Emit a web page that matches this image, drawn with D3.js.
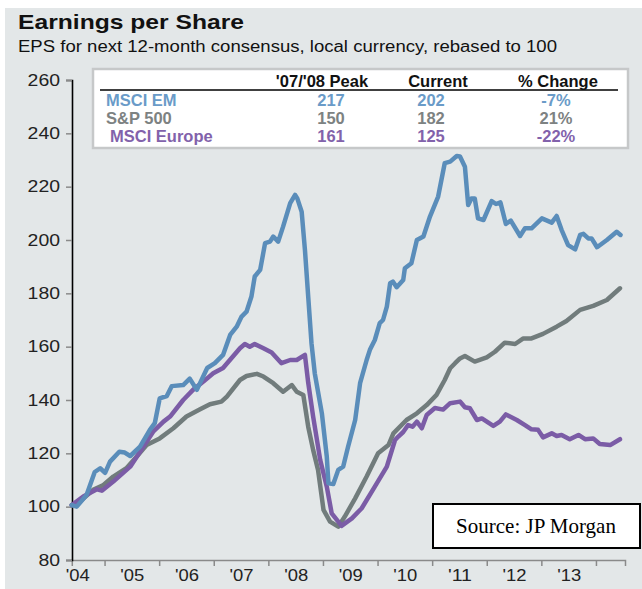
<!DOCTYPE html>
<html>
<head>
<meta charset="utf-8">
<script src="https://cdn.jsdelivr.net/npm/d3@7"></script>
<style>
  body { margin: 0; background: #fff; }
  svg { display: block; font-family: "Liberation Sans", Arial, sans-serif; }
</style>
</head>
<body>
<svg id="chart" width="642" height="589"></svg>
<script>
// [year, EPS index]
const msciEm = [
  [2004.40, 100.6], [2004.49, 100], [2004.67, 104.4], [2004.82, 113], [2004.92, 114.4],
  [2005.01, 112.7], [2005.10, 116.9], [2005.27, 120.6], [2005.37, 120.3], [2005.47, 119],
  [2005.65, 122.5], [2005.83, 128.8], [2005.92, 131.3], [2006.01, 140.6], [2006.14, 141.5],
  [2006.23, 145.2], [2006.44, 145.6], [2006.56, 148], [2006.69, 143.8], [2006.88, 152],
  [2007.02, 153.8], [2007.17, 156.9], [2007.30, 164.4], [2007.42, 167.5], [2007.51, 171.3],
  [2007.60, 173.1], [2007.69, 178.8], [2007.75, 186.3], [2007.85, 188.8], [2007.94, 198.8],
  [2008.03, 199.4], [2008.09, 201.3], [2008.18, 199.4], [2008.27, 205], [2008.40, 213.8],
  [2008.49, 216.9], [2008.53, 215.6], [2008.61, 210.6], [2008.67, 196.3], [2008.73, 178.8],
  [2008.79, 161.3], [2008.85, 150], [2008.98, 135], [2009.07, 118.8], [2009.10, 108.8],
  [2009.19, 108.5], [2009.28, 113.8], [2009.37, 115], [2009.46, 122.5], [2009.59, 132.5],
  [2009.68, 146.3], [2009.80, 155], [2009.86, 158.8], [2009.95, 162.5], [2010.04, 168.8],
  [2010.10, 170], [2010.17, 175], [2010.23, 183.8], [2010.28, 184.4], [2010.35, 182.3],
  [2010.47, 185], [2010.50, 189.4], [2010.62, 191.3], [2010.72, 200], [2010.84, 201.3],
  [2010.96, 208.8], [2011.11, 216.3], [2011.23, 228.8], [2011.33, 229.4], [2011.45, 231.5],
  [2011.51, 231.3], [2011.60, 227.5], [2011.66, 213.1], [2011.72, 215.6], [2011.78, 215.6],
  [2011.84, 208.1], [2011.94, 207.5], [2012.09, 214.6], [2012.17, 213.5], [2012.25, 214.1],
  [2012.35, 206], [2012.44, 207.3], [2012.61, 201.5], [2012.70, 204.4], [2012.82, 204.4],
  [2013.01, 208.1], [2013.19, 206.5], [2013.28, 209], [2013.37, 203.8], [2013.49, 198.1],
  [2013.62, 196.5], [2013.71, 201.9], [2013.77, 202.3], [2013.86, 200.6], [2013.92, 200.6],
  [2014.02, 197.3], [2014.20, 200], [2014.38, 203.1], [2014.45, 201.9]
];

const sp500 = [
  [2004.40, 100.6], [2004.55, 101.9], [2004.79, 106.3], [2004.98, 108.1], [2005.16, 111.3],
  [2005.40, 114.4], [2005.59, 118.8], [2005.77, 123.1], [2006.01, 125.6], [2006.26, 129.4],
  [2006.50, 133.8], [2006.75, 136.5], [2006.93, 138.4], [2007.14, 139.4], [2007.24, 141.3],
  [2007.48, 147.5], [2007.60, 149], [2007.79, 149.8], [2007.91, 148.8], [2008.09, 146.3],
  [2008.27, 143.1], [2008.43, 145.6], [2008.52, 143.1], [2008.64, 141.9], [2008.73, 130],
  [2008.82, 121.3], [2008.91, 113.8], [2009.01, 98.8], [2009.13, 94.4], [2009.28, 92.5],
  [2009.40, 96.3], [2009.59, 103.1], [2009.80, 111.3], [2010.01, 120], [2010.20, 123.1],
  [2010.29, 127.5], [2010.53, 132.5], [2010.72, 135], [2010.90, 138.1], [2011.08, 141.9],
  [2011.23, 147.5], [2011.33, 151.9], [2011.42, 153.8], [2011.51, 155.6], [2011.60, 156.5],
  [2011.78, 154.4], [2012.00, 156], [2012.15, 158.1], [2012.33, 161.5], [2012.52, 161],
  [2012.67, 163.1], [2012.82, 163.1], [2013.03, 164.8], [2013.28, 167.5], [2013.46, 169.6],
  [2013.71, 173.8], [2013.95, 175.3], [2014.20, 177.5], [2014.44, 181.9]
];

const msciEurope = [
  [2004.40, 100.6], [2004.61, 103.8], [2004.86, 106.5], [2004.95, 106], [2005.16, 109.4],
  [2005.47, 115], [2005.65, 120.6], [2005.89, 128.1], [2006.08, 131.9], [2006.20, 133.8],
  [2006.44, 140], [2006.62, 143.8], [2006.81, 146.9], [2006.99, 150], [2007.17, 152],
  [2007.48, 159.4], [2007.57, 161], [2007.66, 160], [2007.75, 161], [2007.91, 159.4],
  [2008.06, 157.8], [2008.24, 153.8], [2008.40, 155], [2008.52, 155], [2008.67, 156.9],
  [2008.73, 146.5], [2008.82, 133.8], [2008.95, 117.5], [2009.07, 107.5], [2009.16, 97.5],
  [2009.28, 94.4], [2009.34, 92.8], [2009.53, 95.6], [2009.71, 99.4], [2009.95, 107.5],
  [2010.17, 115], [2010.32, 125], [2010.38, 126.3], [2010.47, 128], [2010.56, 130.6],
  [2010.64, 130], [2010.72, 131.9], [2010.81, 129.4], [2010.90, 134.4], [2011.05, 137],
  [2011.20, 136.4], [2011.33, 138.8], [2011.51, 139.4], [2011.60, 137.3], [2011.69, 136.9],
  [2011.82, 132.5], [2011.91, 133.1], [2012.12, 130.3], [2012.24, 131.9], [2012.35, 134.6],
  [2012.55, 132.5], [2012.70, 130.6], [2012.82, 129], [2012.94, 128.8], [2013.03, 126],
  [2013.19, 127.5], [2013.28, 126.5], [2013.37, 126.9], [2013.52, 125.3], [2013.68, 126.9],
  [2013.80, 125.3], [2013.95, 125.6], [2014.07, 123.5], [2014.26, 123.1], [2014.44, 125.3]
];

const yTicks = [80, 100, 120, 140, 160, 180, 200, 220, 240, 260];
const yearTicks = [2005, 2006, 2007, 2008, 2009, 2010, 2011, 2012, 2013, 2014];
const yearLabels = [2004, 2005, 2006, 2007, 2008, 2009, 2010, 2011, 2012, 2013];

const tableHeader = ["'07/'08 Peak", "Current", "% Change"];
const tableNames = ["MSCI EM", "S&P 500", "MSCI Europe"];
const tablePeak = [217, 150, 161];
const tableCurrent = [202, 182, 125];
const tableChange = ["-7%", "21%", "-22%"];

const lineColors = ["#5a8dba", "#717c7c", "#7b5ca6"];
const textColors = ["#6a9bc8", "#7d8282", "#8262ab"];

const svg = d3.select("#chart");

// panel background
svg.append("rect")
  .attr("x", 5).attr("y", 8)
  .attr("width", 637).attr("height", 581)
  .attr("fill", "#e3e7e8");

svg.append("text")
  .attr("x", 18).attr("y", 29)
  .attr("font-size", 21).attr("font-weight", "bold")
  .attr("fill", "#111")
  .attr("textLength", 226).attr("lengthAdjust", "spacingAndGlyphs")
  .text("Earnings per Share");

svg.append("text")
  .attr("x", 18).attr("y", 52)
  .attr("font-size", 16)
  .attr("fill", "#111")
  .attr("textLength", 539).attr("lengthAdjust", "spacingAndGlyphs")
  .text("EPS for next 12-month consensus, local currency, rebased to 100");

// scales
const x = d3.scaleLinear().domain([2004.4, 2014.532]).range([71.8, 625]);
const y = d3.scaleLinear().domain([80, 260]).range([560, 80]);

// x axis: ticks at year starts, labels centred in each year
const xAxis = svg.append("g")
  .attr("transform", "translate(0,560)")
  .call(d3.axisBottom(x).tickValues(yearTicks).tickSize(6).tickFormat(""));
xAxis.select(".domain").attr("stroke", "#8a8a8a").attr("stroke-width", 1.5);
xAxis.selectAll(".tick line").attr("stroke", "#8a8a8a").attr("stroke-width", 1.5);

const xLabels = svg.append("g")
  .attr("transform", "translate(0,560)")
  .call(d3.axisBottom(x).tickValues(yearLabels.map(d => d + 0.5)).tickSize(0).tickPadding(10)
    .tickFormat(d => "'" + String(Math.floor(d)).slice(2)));
xLabels.select(".domain").remove();
xLabels.selectAll("text")
  .attr("font-size", 16).attr("fill", "#222")
  .attr("font-family", "Liberation Sans, Arial, sans-serif")
  .attr("textLength", 24).attr("lengthAdjust", "spacingAndGlyphs");

// y axis
const yAxis = svg.append("g")
  .attr("transform", "translate(72,0)")
  .call(d3.axisLeft(y).tickValues(yTicks).tickSize(6).tickPadding(5));
yAxis.select(".domain").attr("stroke", "#000").attr("stroke-width", 1.6);
yAxis.selectAll(".tick line").attr("stroke", "#8a8a8a").attr("stroke-width", 1.5);
yAxis.selectAll("text")
  .attr("x", -12)
  .attr("font-size", 16).attr("fill", "#222")
  .attr("font-family", "Liberation Sans, Arial, sans-serif")
  .attr("textLength", d => String(d).length * 10.8)
  .attr("lengthAdjust", "spacingAndGlyphs");

// lines
const line = d3.line().x(d => x(d[0])).y(d => y(d[1]));
const seriesOrder = [[sp500, 1], [msciEurope, 2], [msciEm, 0]];
svg.append("g").selectAll("path")
  .data(seriesOrder)
  .enter()
  .append("path")
  .attr("d", d => line(d[0]))
  .attr("fill", "none")
  .attr("stroke", d => lineColors[d[1]])
  .attr("stroke-width", 4.5)
  .attr("stroke-linejoin", "round")
  .attr("stroke-linecap", "round");

// summary table
const table = svg.append("g");
table.append("rect")
  .attr("x", 93).attr("y", 69)
  .attr("width", 535).attr("height", 79)
  .attr("fill", "#fff")
  .attr("stroke", "#c6c8c9").attr("stroke-width", 2.5);

table.append("line")
  .attr("x1", 100).attr("x2", 618)
  .attr("y1", 90).attr("y2", 90)
  .attr("stroke", "#000").attr("stroke-width", 1.3);

const headerX = [322, 438, 558];
table.selectAll(".hdr")
  .data(tableHeader)
  .enter()
  .append("text")
  .attr("class", "hdr")
  .attr("x", (d, i) => headerX[i]).attr("y", 87)
  .attr("text-anchor", "middle")
  .attr("font-size", 16.5).attr("font-weight", "bold")
  .attr("fill", "#111")
  .text(d => d);

const rowY = [106, 124, 141.5];
const nameX = [106, 106, 110];
const valueX = [331, 431, 556];
tableNames.forEach((name, i) => {
  const c = textColors[i];
  table.append("text")
    .attr("x", nameX[i]).attr("y", rowY[i])
    .attr("font-size", 16.5).attr("font-weight", "bold").attr("fill", c)
    .text(name);
  [tablePeak[i], tableCurrent[i], tableChange[i]].forEach((v, j) => {
    table.append("text")
      .attr("x", valueX[j]).attr("y", rowY[i])
      .attr("text-anchor", "middle")
      .attr("font-size", 16.5).attr("font-weight", "bold").attr("fill", c)
      .text(v);
  });
});

// source box
svg.append("rect")
  .attr("x", 433).attr("y", 504)
  .attr("width", 207).attr("height", 44)
  .attr("fill", "#fff")
  .attr("stroke", "#000").attr("stroke-width", 2);

svg.append("text")
  .attr("x", 536).attr("y", 533)
  .attr("text-anchor", "middle")
  .attr("font-family", "Liberation Serif, Times New Roman, serif")
  .attr("font-size", 21)
  .attr("fill", "#000")
  .text("Source: JP Morgan");
</script>
</body>
</html>
